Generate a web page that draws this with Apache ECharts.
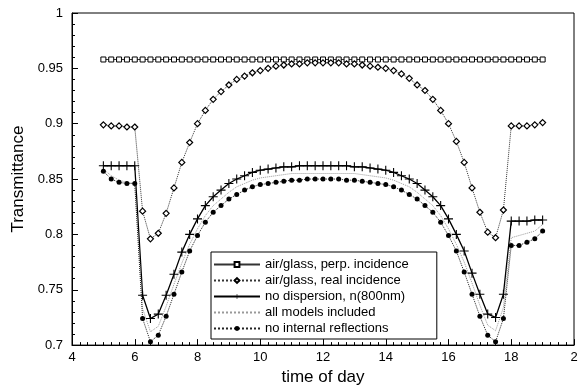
<!DOCTYPE html>
<html>
<head>
<meta charset="utf-8">
<script src="https://cdn.jsdelivr.net/npm/echarts@6/dist/echarts.min.js"></script>
<style>
  html, body { margin: 0; padding: 0; background: #fff; }
  #chart { width: 581px; height: 391px; }
</style>
</head>
<body>
<div id="chart"></div>
<script>
// time of day (hours)
var times = [
  5, 5.25, 5.5, 5.75,
  6, 6.25, 6.5, 6.75,
  7, 7.25, 7.5, 7.75,
  8, 8.25, 8.5, 8.75,
  9, 9.25, 9.5, 9.75,
  10, 10.25, 10.5, 10.75,
  11, 11.25, 11.5, 11.75,
  12, 12.25, 12.5, 12.75,
  13, 13.25, 13.5, 13.75,
  14, 14.25, 14.5, 14.75,
  15, 15.25, 15.5, 15.75,
  16, 16.25, 16.5, 16.75,
  17, 17.25, 17.5, 17.75,
  18, 18.25, 18.5, 18.75,
  19
];

var perpIncidence = [
  0.958, 0.958, 0.958, 0.958,
  0.958, 0.958, 0.958, 0.958,
  0.958, 0.958, 0.958, 0.958,
  0.958, 0.958, 0.958, 0.958,
  0.958, 0.958, 0.958, 0.958,
  0.958, 0.958, 0.958, 0.958,
  0.958, 0.958, 0.958, 0.958,
  0.958, 0.958, 0.958, 0.958,
  0.958, 0.958, 0.958, 0.958,
  0.958, 0.958, 0.958, 0.958,
  0.958, 0.958, 0.958, 0.958,
  0.958, 0.958, 0.958, 0.958,
  0.958, 0.958, 0.958, 0.958,
  0.958, 0.958, 0.958, 0.958,
  0.958
];

var realIncidence = [
  0.899, 0.898, 0.898, 0.897,
  0.897, 0.821, 0.796, 0.801,
  0.819, 0.842, 0.865, 0.883,
  0.900, 0.912, 0.922, 0.929,
  0.935, 0.940, 0.943, 0.946,
  0.948, 0.950, 0.952, 0.953,
  0.954, 0.954, 0.955, 0.955,
  0.955, 0.955, 0.955, 0.954,
  0.954, 0.953, 0.952, 0.951,
  0.950, 0.948, 0.945, 0.941,
  0.935, 0.930, 0.922, 0.912,
  0.900, 0.884, 0.865, 0.842,
  0.820, 0.802, 0.797, 0.822,
  0.898, 0.898, 0.898, 0.899,
  0.901
];

var noDispersion = [
  0.862, 0.862, 0.862, 0.862,
  0.862, 0.745, 0.724, 0.728,
  0.745, 0.764, 0.784, 0.800,
  0.814, 0.826, 0.834, 0.840,
  0.846, 0.850, 0.853, 0.856,
  0.858, 0.859, 0.860, 0.861,
  0.861, 0.862, 0.862, 0.862,
  0.862, 0.862, 0.862, 0.862,
  0.861, 0.861, 0.860, 0.859,
  0.858, 0.856, 0.853, 0.850,
  0.846, 0.840, 0.834, 0.826,
  0.814, 0.800, 0.785, 0.765,
  0.746, 0.728, 0.725, 0.746,
  0.812, 0.812, 0.812, 0.813,
  0.813
];

var allModels = [
  0.859, 0.853, 0.849, 0.847,
  0.846, 0.733, 0.712, 0.717,
  0.735, 0.755, 0.774, 0.791,
  0.805, 0.817, 0.826, 0.832,
  0.838, 0.843, 0.846, 0.849,
  0.851, 0.852, 0.853, 0.854,
  0.855, 0.855, 0.855, 0.855,
  0.855, 0.855, 0.855, 0.855,
  0.855, 0.854, 0.853, 0.852,
  0.851, 0.849, 0.846, 0.843,
  0.838, 0.832, 0.826, 0.817,
  0.805, 0.791, 0.775, 0.756,
  0.736, 0.718, 0.713, 0.734,
  0.797, 0.799, 0.801, 0.803,
  0.809
];

var noInternalRefl = [
  0.857, 0.850, 0.847, 0.846,
  0.846, 0.724, 0.703, 0.709,
  0.726, 0.746, 0.766, 0.785,
  0.799, 0.811, 0.820, 0.826,
  0.832, 0.836, 0.840, 0.843,
  0.845, 0.846, 0.847, 0.848,
  0.849, 0.849, 0.850, 0.850,
  0.850, 0.850, 0.850, 0.849,
  0.849, 0.848, 0.847, 0.846,
  0.845, 0.843, 0.840, 0.836,
  0.832, 0.826, 0.820, 0.811,
  0.799, 0.785, 0.766, 0.746,
  0.726, 0.709, 0.703, 0.724,
  0.790, 0.790, 0.793, 0.796,
  0.803
];

var seriesNames = [
  'air/glass, perp. incidence',
  'air/glass, real incidence',
  'no dispersion, n(800nm)',
  'all models included',
  'no internal reflections'
];

function pairs(vals) {
  var out = [];
  for (var i = 0; i < times.length; i++) {
    out.push([times[i], vals[i]]);
  }
  return out;
}

var plusSymbol = 'path://M4.4,0H5.6V4.4H10V5.6H5.6V10H4.4V5.6H0V4.4H4.4Z';
var font = '"Liberation Sans", Arial, sans-serif';

var myChart = echarts.init(document.getElementById('chart'));
var option = {
  animation: false,
  backgroundColor: '#fff',
  grid: {
    left: 72,
    right: 7,
    top: 13,
    bottom: 41,
    show: true,
    borderColor: '#000',
    borderWidth: 1
  },
  legend: {
    orient: 'vertical',
    left: 211,
    top: 252,
    data: [
      { name: seriesNames[0] },
      { name: seriesNames[1] },
      { name: seriesNames[2] },
      { name: seriesNames[3], itemStyle: { opacity: 0 } },
      { name: seriesNames[4] }
    ],
    backgroundColor: '#fff',
    borderColor: '#000',
    borderWidth: 1,
    padding: [6, 28, 4, 2],
    itemGap: 3,
    itemWidth: 46,
    itemHeight: 6,
    textStyle: {
      fontFamily: font,
      fontSize: 13,
      color: '#000'
    }
  },
  xAxis: {
    type: 'value',
    min: 4,
    max: 20,
    interval: 2,
    name: 'time of day',
    nameLocation: 'middle',
    nameGap: 22,
    nameTextStyle: {
      fontFamily: font,
      fontSize: 17,
      color: '#000'
    },
    axisLine: { lineStyle: { color: '#000', width: 1 } },
    axisTick: { inside: true, length: 6, lineStyle: { color: '#000' } },
    minorTick: { show: true, splitNumber: 8, length: 3, lineStyle: { color: '#000' } },
    splitLine: { show: false },
    axisLabel: {
      fontFamily: font,
      fontSize: 13,
      color: '#000',
      margin: 6,
      formatter: function (v) {
        return v === 20 ? '2' : String(v);
      }
    }
  },
  yAxis: {
    type: 'value',
    min: 0.7,
    max: 1,
    interval: 0.05,
    name: 'Transmittance',
    nameLocation: 'middle',
    nameGap: 45,
    nameTextStyle: {
      fontFamily: font,
      fontSize: 17,
      color: '#000'
    },
    axisLine: { lineStyle: { color: '#000', width: 1 } },
    axisTick: { inside: true, length: 6, lineStyle: { color: '#000' } },
    minorTick: { show: true, splitNumber: 5, length: 3, lineStyle: { color: '#000' } },
    splitLine: { show: false },
    axisLabel: {
      fontFamily: font,
      fontSize: 13,
      color: '#000',
      margin: 9
    }
  },
  series: [
    {
      name: seriesNames[0],
      type: 'line',
      data: pairs(perpIncidence),
      symbol: 'rect',
      symbolSize: 5,
      showAllSymbol: true,
      lineStyle: { color: '#333', width: 1 },
      itemStyle: { color: '#fff', borderColor: '#000', borderWidth: 1 }
    },
    {
      name: seriesNames[1],
      type: 'line',
      data: pairs(realIncidence),
      symbol: 'diamond',
      symbolSize: 6,
      showAllSymbol: true,
      lineStyle: { color: '#333', width: 1, type: 'dotted' },
      itemStyle: { color: '#fff', borderColor: '#000', borderWidth: 1.2 }
    },
    {
      name: seriesNames[2],
      type: 'line',
      data: pairs(noDispersion),
      symbol: plusSymbol,
      symbolSize: 9,
      showAllSymbol: true,
      lineStyle: { color: '#000', width: 1.3 },
      itemStyle: { color: '#000' }
    },
    {
      name: seriesNames[3],
      type: 'line',
      data: pairs(allModels),
      symbol: 'none',
      lineStyle: { color: '#999', width: 1, type: 'dotted' },
      itemStyle: { color: '#999' }
    },
    {
      name: seriesNames[4],
      type: 'line',
      data: pairs(noInternalRefl),
      symbol: 'circle',
      symbolSize: 5,
      showAllSymbol: true,
      lineStyle: { color: '#222', width: 1, type: 'dotted' },
      itemStyle: { color: '#000' }
    }
  ]
};
myChart.setOption(option);
window.onresize = myChart.resize;
</script>
</body>
</html>
